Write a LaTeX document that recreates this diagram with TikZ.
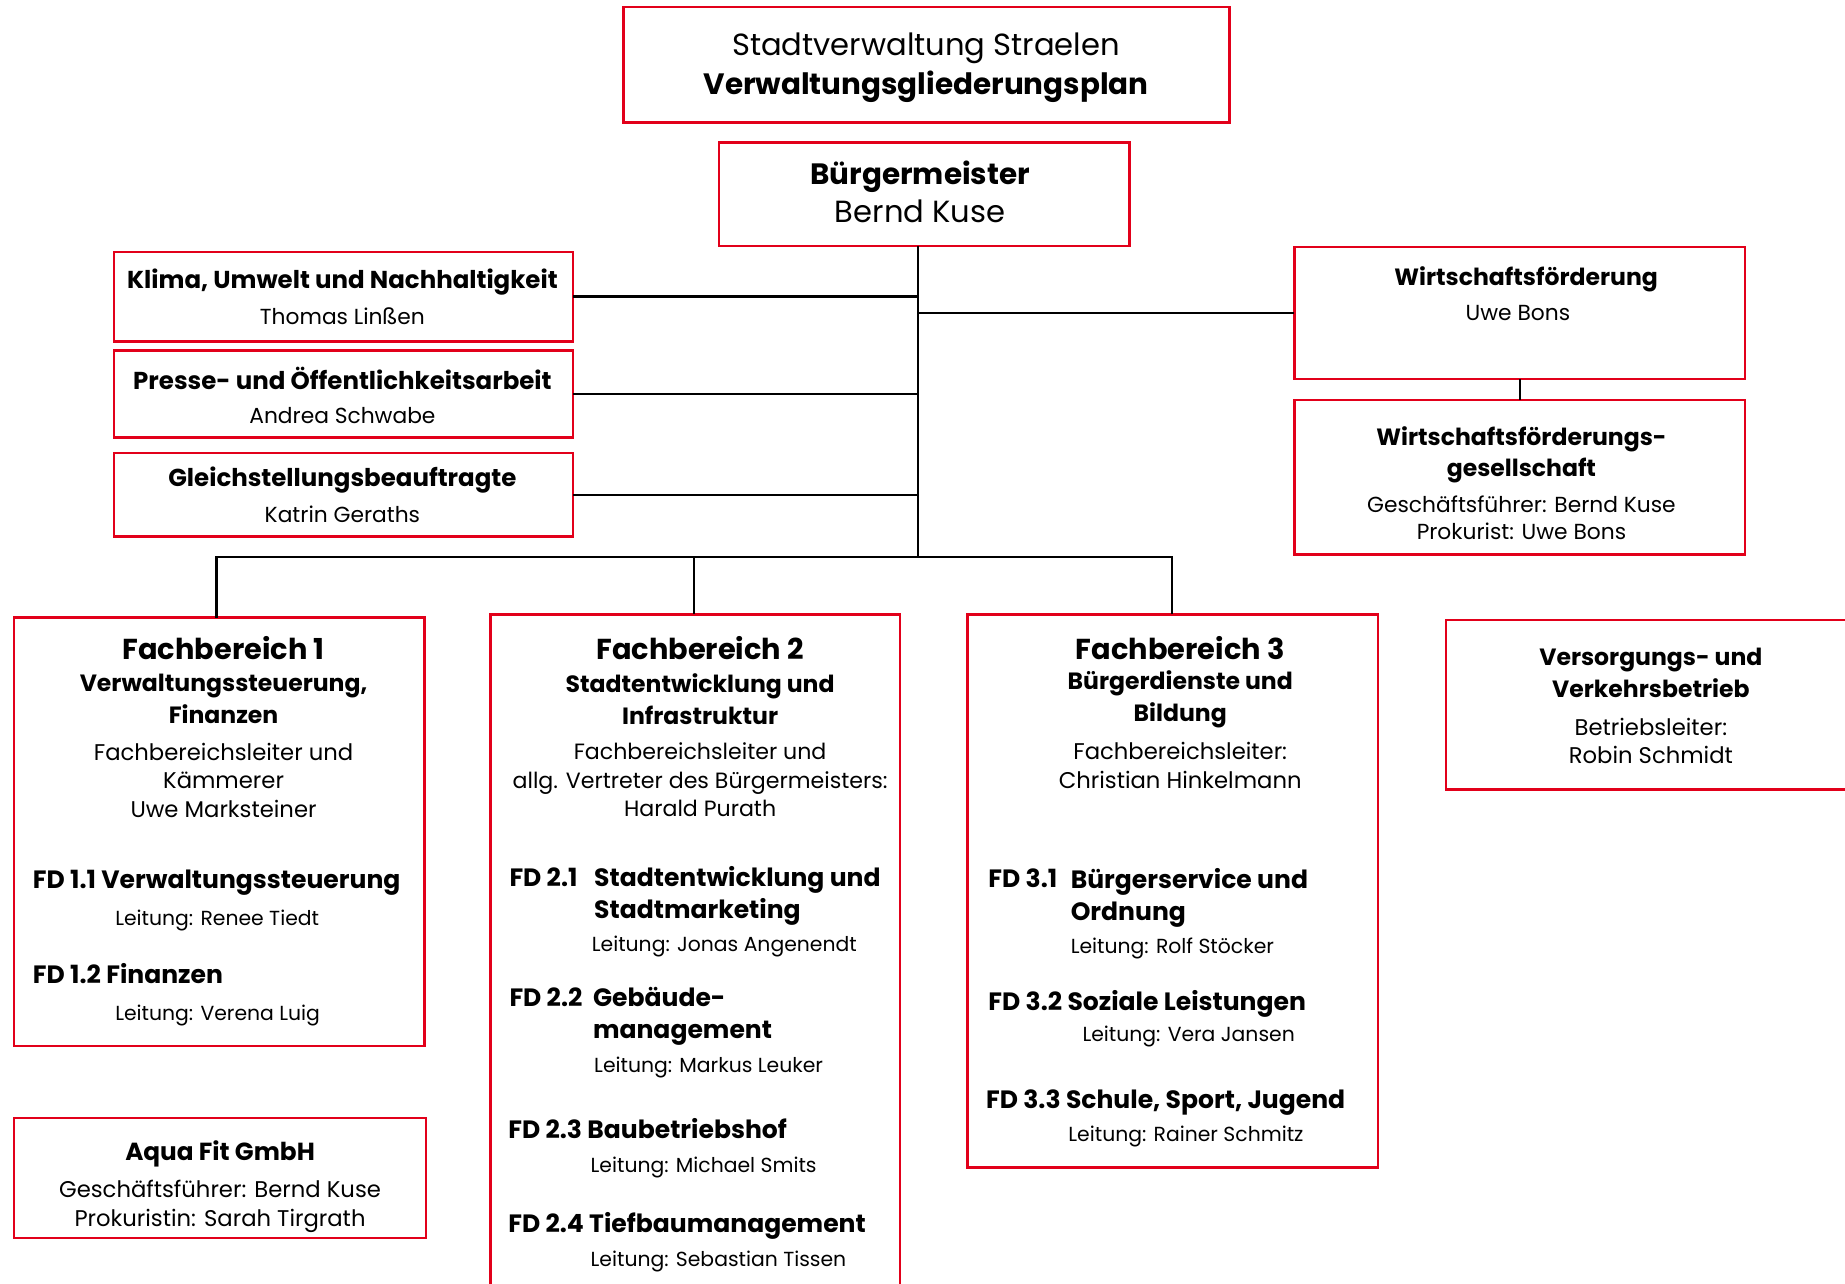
\documentclass[tikz,border=0pt]{standalone}
\usepackage{fontspec}
\setmainfont{Poppins}
\definecolor{boxred}{HTML}{E2001A}
\newcommand\myfs[2]{\fontsize{#1}{#2}\selectfont}
\newcommand\mystrut{\rule[-0.25em]{0pt}{0.95em}}
\begin{document}
\begin{tikzpicture}[x=1pt,y=-1pt,
 box/.style={draw=boxred, line width=2.2pt, inner sep=0pt, outer sep=0pt, fill=white},
 conn/.style={draw=black, line width=1.8pt},
 txt/.style={inner sep=0pt, outer sep=0pt, text=black, align=center, yshift=-3pt,
   execute at begin node=\mystrut, execute at end node=\mystrut},
 lt/.style={inner sep=0pt, outer sep=0pt, text=black, align=left, anchor=west, yshift=-3pt,
   execute at begin node=\mystrut, execute at end node=\mystrut},
 hb/.style={font=\myfs{26}{33}},
 hbb/.style={font=\bfseries\myfs{25}{33}},
 sb/.style={font=\bfseries\myfs{20.8}{27}},
 sn/.style={font=\myfs{18.5}{23}},
 fbh/.style={font=\bfseries\myfs{24.5}{30}},
 fbs/.style={font=\bfseries\myfs{20}{27}},
 fbr/.style={font=\myfs{19.3}{24.5}},
 fdb/.style={font=\bfseries\myfs{21.3}{27}},
 fdl/.style={font=\myfs{17.3}{22}},
]
\useasboundingbox (0,0) rectangle (1568,1091);
\fill[white] (0,0) rectangle (1568,1091);

% junction of the bus
\coordinate (t1) at (780,473);

% boxes
\node[box, minimum width=515pt, minimum height=98pt] (title) at (787.5,55) {};
\node[box, minimum width=349pt, minimum height=88pt] (bm) at (785.5,165) {};
\node[box, minimum width=390pt, minimum height=76pt] (klima) at (292,252) {};
\node[box, minimum width=390pt, minimum height=74pt] (presse) at (292,335) {};
\node[box, minimum width=390pt, minimum height=71pt] (gleich) at (292,420.5) {};
\node[box, minimum width=383pt, minimum height=112pt] (wf) at (1291.5,266) {};
\node[box, minimum width=383pt, minimum height=131pt] (wfg) at (1291.5,405.5) {};
\node[box, minimum width=349pt, minimum height=364pt] (fb1) at (186.5,707) {};
\node[box, minimum width=348pt, minimum height=578pt] (fb2) at (591,811) {};
\node[box, minimum width=349pt, minimum height=470pt] (fb3) at (996.5,757) {};
\node[box, minimum width=351pt, minimum height=144pt] (vv) at (1404.5,599) {};
\node[box, minimum width=350pt, minimum height=102pt] (aqua) at (187,1001) {};

% connectors
\draw[conn] (bm.south -| t1) -- (t1);
\draw[conn] (klima.east) -- (klima.east -| t1);
\draw[conn] (presse.east) -- (presse.east -| t1);
\draw[conn] (gleich.east) -- (gleich.east -| t1);
\draw[conn] (wf.west -| t1) -- (wf.west);
\draw[conn] (wf.south) -- (wfg.north);
\draw[conn] (fb1.north -| 184,0) |- (t1) -| (fb3.north -| 996,0);
\draw[conn] (t1 -| 590,0) -- (fb2.north -| 590,0);

% title
\node[txt, hb] (ti1) at (787,38) {Stadtverwaltung Straelen};
\node[txt, hbb] (ti2) at (787,71) {Verwaltungsgliederungsplan};
% Buergermeister
\node[txt, hbb] (bm1) at (782,147) {Bürgermeister};
\node[txt, hb] (bm2) at (782,180) {Bernd Kuse};

% small boxes
\node[txt, sb] (k1) at (291,237) {Klima, Umwelt und Nachhaltigkeit};
\node[txt, sn] (k2) at (291,268) {Thomas Linßen};
\node[txt, sb] (p1) at (291,321) {Presse- und Öffentlichkeitsarbeit};
\node[txt, sn] (p2) at (291,352) {Andrea Schwabe};
\node[txt, sb] (g1) at (291,405) {Gleichstellungsbeauftragte};
\node[txt, sn] (g2) at (291,436) {Katrin Geraths};

% Wirtschaft
\node[txt, fbs] (w1) at (1297,234) {Wirtschaftsförderung};
\node[txt, sn] (w2) at (1290,265) {Uwe Bons};
\node[txt, fbs] (wg1) at (1293,383.5) {Wirtschaftsförderungs-\\gesellschaft};
\node[txt, sn] (wg2) at (1293,439.5) {Geschäftsführer: Bernd Kuse\\Prokurist: Uwe Bons};

% FB1
\node[txt, fbh] (f1a) at (190,551) {Fachbereich 1};
\node[txt, fbs] (f1b) at (190,593.5) {Verwaltungssteuerung,\\Finanzen};
\node[txt, fbr] (f1c) at (190,662.5) {Fachbereichsleiter und\\Kämmerer\\Uwe Marksteiner};
\node[lt, fdb] (d11) at (28,747) {FD 1.1 Verwaltungssteuerung};
\node[lt, fdl] (e11) at (98,779) {Leitung: Renee Tiedt};
\node[lt, fdb] (d12) at (28,827) {FD 1.2 Finanzen};
\node[lt, fdl] (e12) at (98,860) {Leitung: Verena Luig};

% FB2
\node[txt, fbh] (f2a) at (595,551) {Fachbereich 2};
\node[txt, fbs] (f2b) at (595,593.5) {Stadtentwicklung und\\Infrastruktur};
\node[txt, font=\myfs{18.8}{24.5}] (f2c) at (595,662) {Fachbereichsleiter und\\allg. Vertreter des Bürgermeisters:\\Harald Purath};
\node[lt, fdb] (d21n) at (433,745) {FD 2.1};
\node[lt, fdb] (d21) at (505,758.5) {Stadtentwicklung und\\Stadtmarketing};
\node[lt, fdl] (e21) at (503,801) {Leitung: Jonas Angenendt};
\node[lt, fdb] (d22n) at (433,847) {FD 2.2};
\node[lt, fdb] (d22) at (504,860.5) {Gebäude-\\management};
\node[lt, fdl] (e22) at (505,904) {Leitung: Markus Leuker};
\node[lt, fdb] (d23) at (432,959) {FD 2.3 Baubetriebshof};
\node[lt, fdl] (e23) at (502,989) {Leitung: Michael Smits};
\node[lt, fdb] (d24) at (432,1039) {FD 2.4 Tiefbaumanagement};
\node[lt, fdl] (e24) at (502,1069) {Leitung: Sebastian Tissen};

% FB3
\node[txt, fbh] (f3a) at (1003,551) {Fachbereich 3};
\node[txt, fbs] (f3b) at (1003,591.5) {Bürgerdienste und\\Bildung};
\node[txt, fbr] (f3c) at (1003,650) {Fachbereichsleiter:\\Christian Hinkelmann};
\node[lt, fdb] (d31n) at (840,746) {FD 3.1};
\node[lt, fdb] (d31) at (910,760) {Bürgerservice und\\Ordnung};
\node[lt, fdl] (e31) at (910,803) {Leitung: Rolf Stöcker};
\node[lt, fdb] (d32) at (840,850) {FD 3.2 Soziale Leistungen};
\node[lt, fdl] (e32) at (920,878) {Leitung: Vera Jansen};
\node[lt, fdb] (d33) at (838,934) {FD 3.3 Schule, Sport, Jugend};
\node[lt, fdl] (e33) at (908,963) {Leitung: Rainer Schmitz};

% Versorgung
\node[txt, fbs] (v1) at (1403,571.5) {Versorgungs- und\\Verkehrsbetrieb};
\node[txt, fbr] (v2) at (1403,629) {Betriebsleiter:\\Robin Schmidt};

% Aqua
\node[txt, font=\bfseries\myfs{21}{27}] (a1) at (187,978) {Aqua Fit GmbH};
\node[txt, fbr] (a2) at (187,1022.5) {Geschäftsführer: Bernd Kuse\\Prokuristin: Sarah Tirgrath};
\end{tikzpicture}
\end{document}
